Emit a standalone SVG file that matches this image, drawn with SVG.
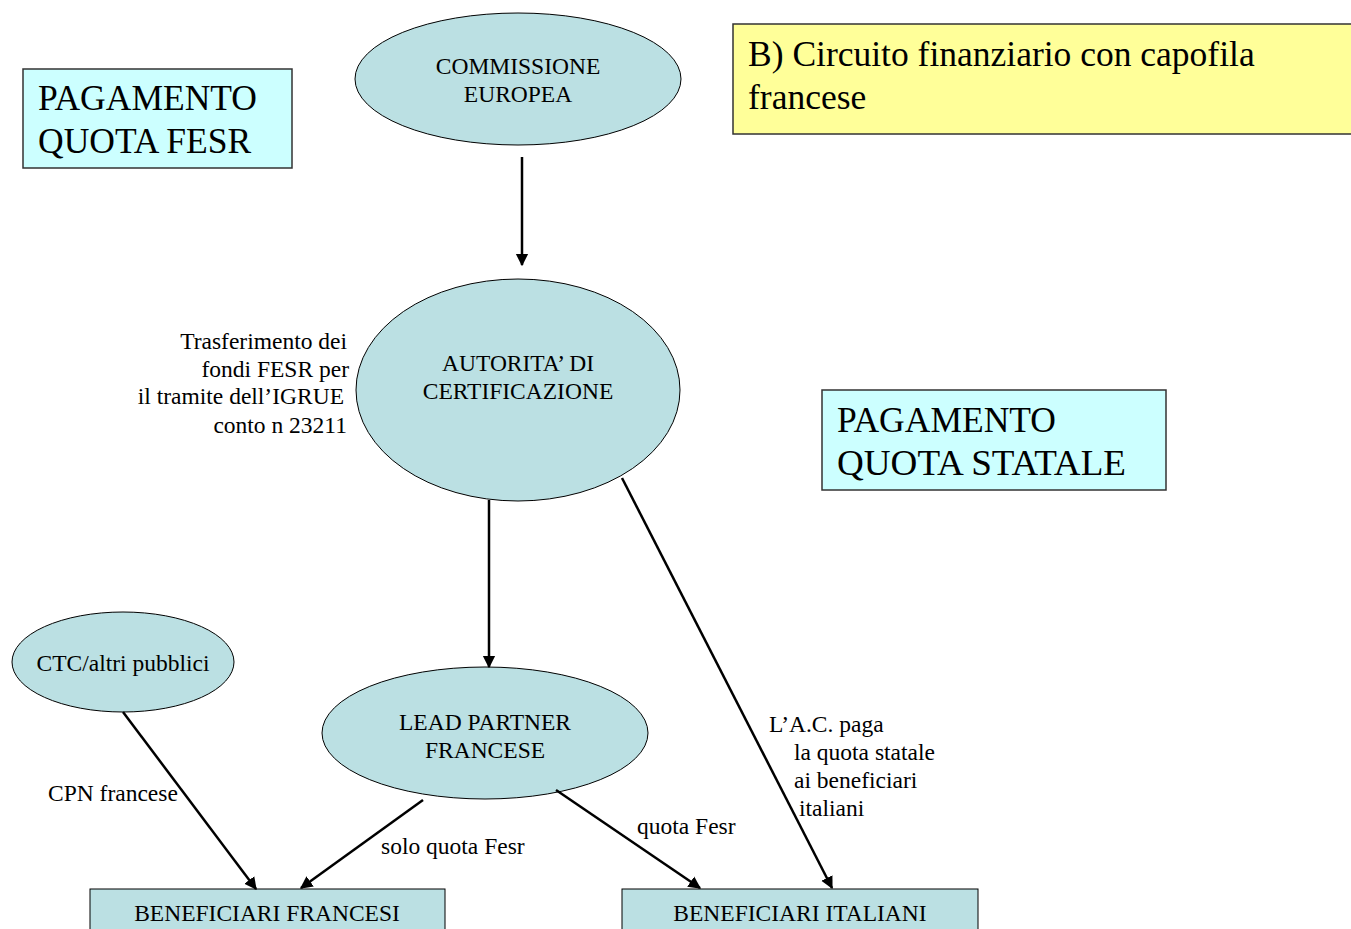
<svg xmlns="http://www.w3.org/2000/svg" width="1351" height="929" viewBox="0 0 1351 929">
<style>
text{font-family:"Liberation Serif","Times New Roman",serif;fill:#000}
.n{fill:#BBE0E3;stroke:#000;stroke-width:1}
.big{font-size:35.5px}
.t{font-size:23.5px;text-anchor:middle}
.l{font-size:23.5px}
.c{stroke:#000;stroke-width:2.5;fill:none;marker-end:url(#ah)}
</style>
<defs>
<marker id="ah" viewBox="0 0 10 10" refX="9" refY="5" markerWidth="5" markerHeight="6" markerUnits="strokeWidth" orient="auto">
<path d="M0,0 L10,5 L0,10 z" fill="#000"/>
</marker>
</defs>
<rect width="1351" height="929" fill="#fff"/>
<g id="title">
<rect x="733" y="24" width="630" height="110" fill="#FFFF99" stroke="#333" stroke-width="1.5"/>
<text class="big" x="748" y="66">B) Circuito finanziario con capofila</text>
<text class="big" x="748" y="109">francese</text>
</g>
<g id="quota-fesr">
<rect x="23" y="69" width="269" height="99" fill="#CCFFFF" stroke="#333" stroke-width="1.5"/>
<text class="big" x="38" y="110">PAGAMENTO</text>
<text class="big" x="38" y="153">QUOTA FESR</text>
</g>
<g id="quota-statale">
<rect x="822" y="390" width="344" height="100" fill="#CCFFFF" stroke="#333" stroke-width="1.5"/>
<text class="big" x="837" y="432">PAGAMENTO</text>
<text class="big" x="837" y="475" textLength="289" lengthAdjust="spacingAndGlyphs">QUOTA STATALE</text>
</g>
<g id="commissione">
<ellipse class="n" cx="518" cy="79" rx="163" ry="66"/>
<text class="t" x="518" y="74">COMMISSIONE</text>
<text class="t" x="518" y="102">EUROPEA</text>
</g>
<g id="autorita">
<ellipse class="n" cx="518" cy="390" rx="162" ry="111"/>
<text class="t" x="518" y="371">AUTORITA’ DI</text>
<text class="t" x="518" y="399">CERTIFICAZIONE</text>
</g>
<g id="lead-partner">
<ellipse class="n" cx="485" cy="733" rx="163" ry="66"/>
<text class="t" x="485" y="730">LEAD PARTNER</text>
<text class="t" x="485" y="758">FRANCESE</text>
</g>
<g id="ctc">
<ellipse class="n" cx="123" cy="662" rx="111" ry="50"/>
<text class="t" x="123" y="671">CTC/altri pubblici</text>
</g>
<g id="beneficiari-francesi">
<rect class="n" x="90" y="889" width="355" height="50"/>
<text class="t" x="267" y="921">BENEFICIARI FRANCESI</text>
</g>
<g id="beneficiari-italiani">
<rect class="n" x="622" y="889" width="356" height="50"/>
<text class="t" x="800" y="921">BENEFICIARI ITALIANI</text>
</g>
<g id="connectors">
<line class="c" x1="522" y1="157" x2="522" y2="265"/>
<line class="c" x1="489" y1="500" x2="489" y2="667"/>
<line class="c" x1="123" y1="712" x2="256" y2="889"/>
<line class="c" x1="423" y1="800" x2="301" y2="888"/>
<line class="c" x1="556" y1="790" x2="700" y2="888"/>
<line class="c" x1="622" y1="478" x2="832" y2="888"/>
</g>
<g id="labels">
<text class="l" x="347" y="349" text-anchor="end">Trasferimento dei</text>
<text class="l" x="349" y="377" text-anchor="end">fondi FESR per</text>
<text class="l" x="344" y="404" text-anchor="end">il tramite dell’IGRUE</text>
<text class="l" x="347" y="433" text-anchor="end">conto n 23211</text>
<text class="l" x="48" y="801">CPN francese</text>
<text class="l" x="381" y="854">solo quota Fesr</text>
<text class="l" x="637" y="834">quota Fesr</text>
<text class="l" x="769" y="732">L’A.C. paga</text>
<text class="l" x="794" y="760">la quota statale</text>
<text class="l" x="794" y="788">ai beneficiari</text>
<text class="l" x="799" y="816">italiani</text>
</g>
</svg>
